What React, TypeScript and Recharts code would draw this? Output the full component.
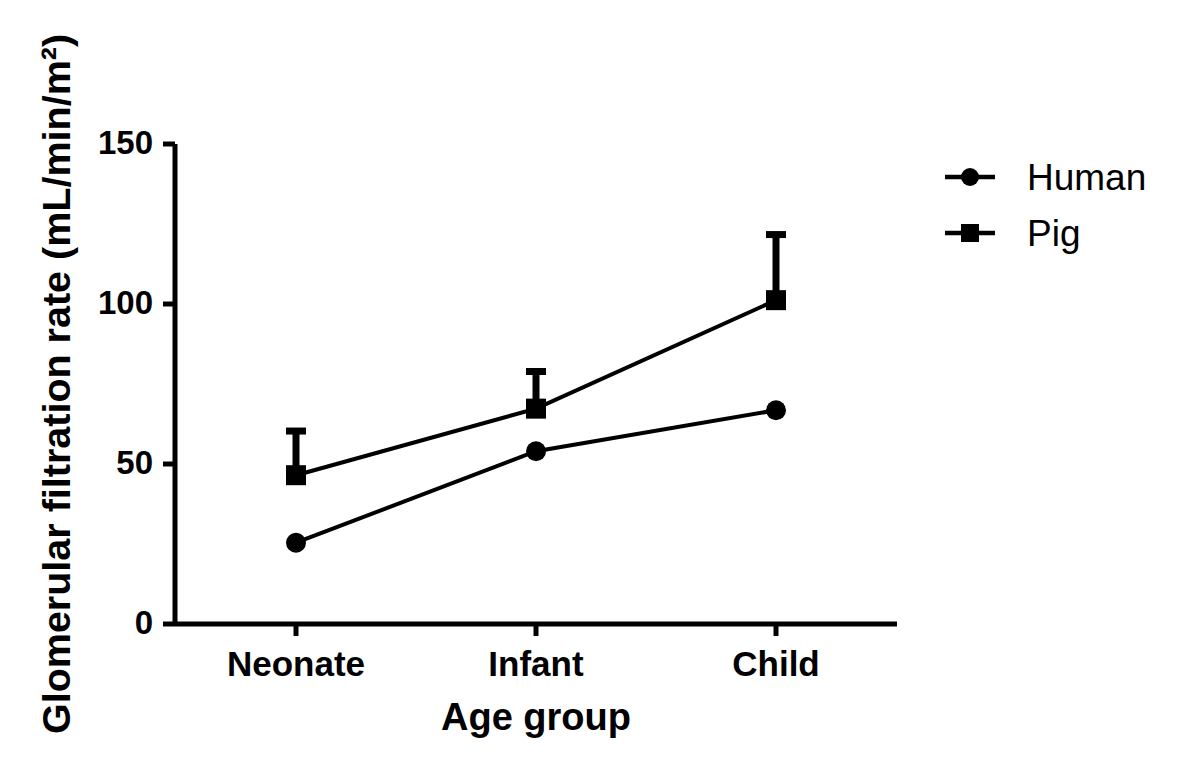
import React from "react";
import { LineChart, Line, XAxis, YAxis, ErrorBar, Legend } from "recharts";

// values
const ageGroups = ["Neonate", "Infant", "Child"];
const humanGfr = [25.4, 54.0, 66.8];
const pigGfr = [46.5, 67.3, 101.2];
const pigSd = [13.8, 11.6, 20.5];
const yTicks = [0, 50, 100, 150];
const seriesNames = ["Human", "Pig"];

const data = ageGroups.map((g, i) => ({
  group: g,
  human: humanGfr[i],
  pig: pigGfr[i],
  pigErr: [0, pigSd[i]],
}));

const FONT = '"Liberation Sans", Arial, Helvetica, sans-serif';

const circleDot = (p: any) => (
  <circle key={`c-${p.index}`} cx={p.cx} cy={p.cy} r={10} fill="#000" />
);

const squareDot = (p: any) => (
  <rect key={`s-${p.index}`} x={p.cx - 10} y={p.cy - 10} width={20} height={20} fill="#000" />
);

const XTick = (p: any) => (
  <text
    x={p.x}
    y={p.y + 38}
    textAnchor="middle"
    fontFamily={FONT}
    fontWeight="bold"
    fontSize={35}
    fill="#000"
  >
    {p.payload.value}
  </text>
);

const YTick = (p: any) => (
  <text
    x={p.x - 8}
    y={p.y + 10}
    textAnchor="end"
    fontFamily={FONT}
    fontWeight="bold"
    fontSize={33}
    fill="#000"
  >
    {p.payload.value}
  </text>
);

const YLabel = () => (
  <text
    transform="translate(70,384) rotate(-90)"
    textAnchor="middle"
    fontFamily={FONT}
    fontWeight="bold"
    fontSize={39.5}
    fill="#000"
  >
    Glomerular filtration rate (mL/min/m²)
  </text>
);

const LegendBox = () => (
  <svg width={240} height={110}>
    {seriesNames.map((name, i) => {
      const cy = 27 + i * 56;
      return (
        <g key={name}>
          <line x1={5} x2={55} y1={cy} y2={cy} stroke="#000" strokeWidth={4.5} />
          {i === 0 ? (
            <circle cx={30} cy={cy} r={9} fill="#000" />
          ) : (
            <rect x={21} y={cy - 9} width={18} height={18} fill="#000" />
          )}
          <text x={87} y={cy + 13} fontFamily={FONT} fontSize={37} fill="#000">
            {name}
          </text>
        </g>
      );
    })}
  </svg>
);

export default function App() {
  return (
    <div style={{ position: "absolute", left: 0, top: 0, width: 1181, height: 773, background: "#fff" }}>
      <LineChart
        width={1181}
        height={773}
        data={data}
        margin={{ top: 144, right: 284, left: 0, bottom: 0 }}
      >
        <XAxis
          dataKey="group"
          height={149}
          padding={{ left: 121, right: 121 }}
          stroke="#000"
          strokeWidth={5}
          axisLine={{ stroke: "#000", strokeWidth: 5 }}
          tickLine={{ stroke: "#000", strokeWidth: 5 }}
          tickSize={12}
          tick={<XTick />}
          label={{
            value: "Age group",
            position: "insideTop",
            offset: 79,
            fontFamily: FONT,
            fontWeight: "bold",
            fontSize: 38,
            fill: "#000",
            stroke: "none",
          }}
        />
        <YAxis
          width={175}
          domain={[0, 150]}
          ticks={yTicks}
          interval={0}
          stroke="#000"
          strokeWidth={5}
          axisLine={{ stroke: "#000", strokeWidth: 5 }}
          tickLine={{ stroke: "#000", strokeWidth: 5 }}
          tickSize={12}
          tick={<YTick />}
          label={{ content: <YLabel /> }}
        />
        <Legend
          layout="vertical"
          align="center"
          verticalAlign="middle"
          wrapperStyle={{ left: 940, top: 150, width: 240 }}
          content={() => <LegendBox />}
        />
        <Line
          name={seriesNames[0]}
          dataKey="human"
          stroke="#000"
          strokeWidth={4}
          dot={circleDot}
          activeDot={false}
          isAnimationActive={false}
        />
        <Line
          name={seriesNames[1]}
          dataKey="pig"
          stroke="#000"
          strokeWidth={4}
          dot={squareDot}
          activeDot={false}
          isAnimationActive={false}
        >
          <ErrorBar dataKey="pigErr" direction="y" width={10} strokeWidth={7} stroke="#000" />
        </Line>
      </LineChart>
    </div>
  );
}
